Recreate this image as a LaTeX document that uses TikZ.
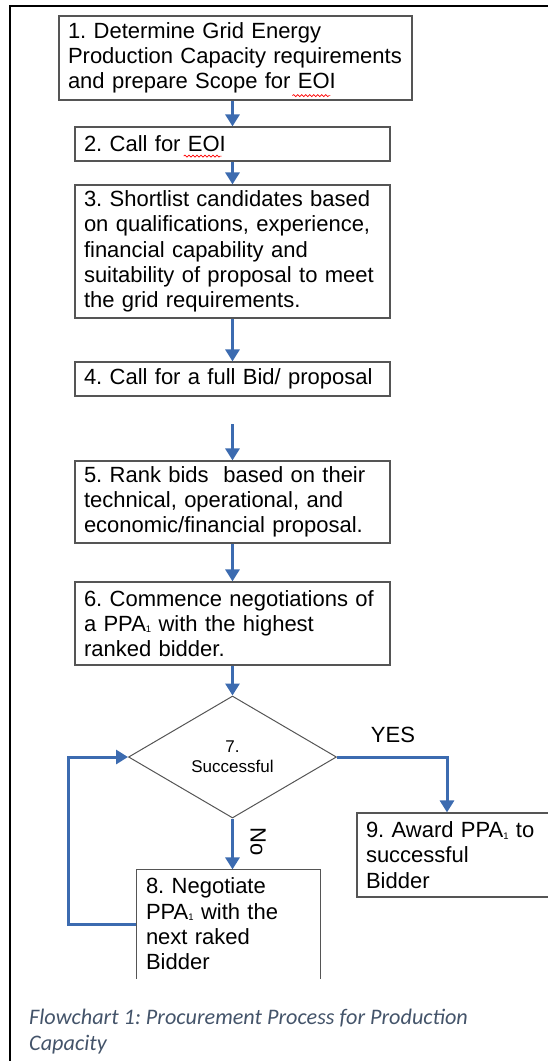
\documentclass[tikz,border=0pt]{standalone}
\usepackage{fontspec}
\setmainfont{Liberation Sans}
\newfontfamily\capfont{Carlito}
\usetikzlibrary{arrows.meta,shapes.geometric,decorations.pathmorphing}
\definecolor{flowblue}{RGB}{60,107,176}
\definecolor{boxgray}{RGB}{85,85,85}
\definecolor{capcol}{RGB}{68,84,106}
\newcommand\subone{\raisebox{-1.5pt}{\fontsize{9.5}{9.5}\selectfont 1}}
\newlength\preA \newlength\preB \newlength\eoiW
\frenchspacing
\begin{document}
\settowidth{\preA}{\fontsize{22}{25.3}\selectfont and prepare Scope for }%
\settowidth{\preB}{\fontsize{22}{25.3}\selectfont 2. Call for }%
\settowidth{\eoiW}{\fontsize{22}{25.3}\selectfont EOI}%
\addtolength{\preA}{9pt}%
\addtolength{\preB}{9pt}%
\begin{tikzpicture}[x=1pt,y=-1pt,
  stepbox/.style={draw=boxgray, line width=1.2pt, align=left, inner xsep=9pt,
    inner ysep=0pt, font=\fontsize{22}{25.3}\selectfont, text width=#1},
  flow/.style={draw=flowblue, line width=3pt, -{Triangle[width=14pt,length=12pt]}},
  spell/.style={draw=red, line width=0.7pt, decorate,
    decoration={snake, amplitude=1pt, segment length=4pt}},
  lbl/.style={font=\fontsize{22}{25}\selectfont, inner sep=0pt}]
\useasboundingbox (0,0) rectangle (548,1061);
\begin{scope}
\clip (0,0) rectangle (548,1061);
% frame
\draw[line width=2pt] (10,1065) -- (10,6) -- (552,6);

\node[stepbox=335pt, minimum height=84pt] (b1) at (235.5,58)
  {1. Determine Grid Energy\\Production Capacity requirements\\and prepare Scope for EOI};
\node[stepbox=297pt, minimum height=34pt] (b2) at (232.5,144) {2. Call for EOI};
\node[stepbox=297pt, minimum height=133pt] (b3) at (232.5,251.5)
  {3. Shortlist candidates based\\on qualifications, experience,\\financial capability and\\suitability of proposal to meet\\the grid requirements.};
\node[stepbox=297pt, minimum height=34pt] (b4) at (232.5,379) {4. Call for a full Bid/ proposal};
\node[stepbox=297pt, minimum height=82pt] (b5) at (232.5,502)
  {5. Rank bids\ \ based on their\\technical, operational, and\\economic/financial proposal.};
\node[stepbox=297pt, minimum height=83pt] (b6) at (232.5,623.5)
  {6. Commence negotiations of\\a PPA\subone{} with the highest\\ranked bidder.};
\node[diamond, draw=boxgray, line width=1pt, minimum width=208pt, minimum height=122pt,
  inner sep=0pt, align=center, font=\fontsize{17}{20}\selectfont] (d7) at (232.5,757)
  {7.\\Successful};
\node[stepbox=165pt, draw=none, minimum height=108pt] (b8) at (228.5,924)
  {8. Negotiate\\PPA\subone{} with the\\next raked\\Bidder};
\draw[boxgray, line width=1.2pt] (b8.south west) -- (b8.north west) -- (b8.north east) -- (b8.south east);
\node[stepbox=212pt, minimum height=84pt] (b9) at (472,855)
  {9. Award PPA\subone{} to\\successful\\Bidder};

% spellcheck marks under EOI
\coordinate (s1) at ([xshift=\preA, yshift=5pt]b1.south west);
\coordinate (s2) at ([xshift=\preB, yshift=5.5pt]b2.south west);
\draw[spell] (s1) -- ++(\eoiW,0pt);
\draw[spell] (s2) -- ++(\eoiW,0pt);

% connectors
\draw[flow] (b1.south -| b2.north) -- (b2.north);
\draw[flow] (b2.south) -- (b3.north);
\draw[flow] (b3.south) -- (b4.north);
\coordinate (f5) at (232.5,424);
\draw[flow] (f5) -- (b5.north);
\draw[flow] (b5.south) -- (b6.north);
\draw[flow] (b6.south) -- (d7.north);
\coordinate (yx) at (447,0);
\draw[flow] (d7.east) -| (yx |- b9.north);
\draw[flow] (d7.south) -- (d7.south |- b8.north);
\coordinate (lx) at (68,0);
\draw[flow] (b8.west) -- (b8.west -| lx) |- (d7.west);

\node[lbl] (yes) at (393,735) {YES};
\node[lbl] (no) at (258,842) {\rotatebox{-90}{No}};

\node[anchor=north west, inner sep=0pt, align=left, text=capcol,
  font=\capfont\itshape\fontsize{22.2}{26}\selectfont] (cap) at (29,1009)
  {Flowchart 1: Procurement Process for Production\\Capacity};
\end{scope}
\end{tikzpicture}
\end{document}
